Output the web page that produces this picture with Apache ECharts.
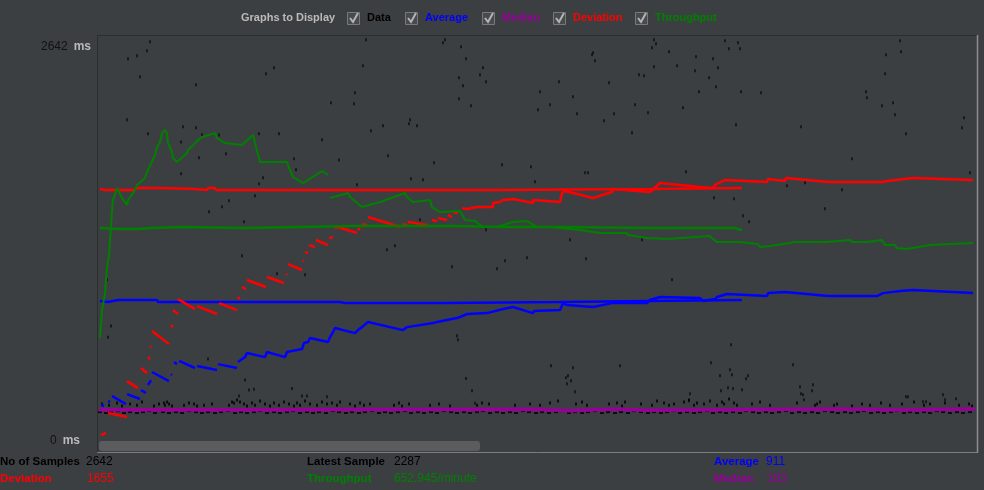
<!DOCTYPE html>
<html>
<head>
<meta charset="utf-8">
<script src="https://cdn.jsdelivr.net/npm/echarts@6/dist/echarts.min.js"></script>
<style>
html,body{margin:0;padding:0;background:#3c3f41;}
#chart{width:984px;height:490px;}
</style>
</head>
<body>
<div id="chart"></div>
<script>
// ---------- DATA ----------
const yTickValues = [0, 2642];
const yUnit = 'ms';
const legendNames = ['Data', 'Average', 'Median', 'Deviation', 'Throughput'];
const legendColors = ['#000000', '#0000ff', '#990099', '#ff0000', '#008000'];
const statNames = ['No of Samples', 'Deviation', 'Latest Sample', 'Throughput', 'Average', 'Median'];
const statValues = ['2642', '1655', '2287', '652.945/minute', '911', '183'];

// [sample slot, ms]; null = gap in the trace
const deviationCurrent = [[4,40],[9,54],null,[11,188],[30,161],null,[30,402],[41,355],null,[44,490],[50,456],null,
  [51,563],[53,550],null,[53,637],[54,630],null,[55,738],[72,650],null,[74,778],[76,764],null,[76,878],[81,852],null,
  [81,952],[98,885],null,[100,905],[120,852],null,[122,925],[140,878],null,[141,966],[143,952],null,[145,1033],[149,1019],null,
  [150,1080],[169,1033],null,[170,1100],[187,1060],null,[189,1120],[190,1114],null,[191,1187],[205,1147],null,[206,1214],[207,1207],null,
  [208,1267],[211,1261],null,[212,1314],[218,1301],null,[219,1348],[231,1314],null,[232,1361],[236,1368],null,
  [238,1428],[241,1435],[260,1395],null,[261,1428],[263,1415],null,[265,1455],[270,1448],null,[271,1502],[303,1435],null,
  [306,1455],[310,1448],null,[311,1469],[331,1448],null,[335,1482],[340,1475],null,[341,1495],[350,1482],null,
  [351,1516],[355,1502],null,[356,1536],[361,1529],null,
  [365,1562],[370,1556],[371,1569],[380,1569],[381,1576],[396,1569],[396,1596],[403,1603],[406,1616],[416,1623],[416,1630],
  [436,1596],[436,1616],[463,1603],[465,1663],[468,1677],[470,1670],[496,1630],[496,1636],[515,1670],[516,1690],[553,1670],
  [553,1683],[563,1730],[603,1703],[616,1697],[618,1717],[628,1750],[670,1737],[671,1757],[688,1744],[689,1764],[731,1737],
  [786,1737],[790,1744],[816,1764],[876,1750]];
const deviationPrevious = [[3,1690],[8,1683],[38,1683],[39,1697],[63,1697],[64,1690],[98,1690],[99,1683],[110,1683],[111,1697],
  [118,1697],[119,1683],[303,1683],[304,1677],[403,1683],[553,1690],[554,1697],[645,1697]];

const averageCurrent = [[4,241],[7,235],null,[11,268],[13,262],null,[15,302],[29,248],null,[30,315],[43,282],null,[44,342],[49,322],null,
  [51,376],[54,409],null,[55,463],[72,402],null,[74,449],[75,443],null,[77,530],[80,516],null,[82,536],[85,530],[98,490],null,
  [100,503],[120,476],null,[121,516],[140,490],null,
  [141,530],[148,563],[150,590],[168,563],[170,597],[188,563],[190,597],[205,617],[207,657],[211,664],[213,691],[231,664],
  [233,697],[236,731],[238,758],[258,724],[261,744],[265,764],[271,798],[306,744],[310,764],[336,791],[340,798],[360,825],
  [363,832],[370,852],[390,858],[391,865],[406,885],[408,892],[416,899],[436,858],[437,872],[463,878],[466,925],[470,912],
  [496,899],[515,925],[516,932],[550,925],[553,946],[563,966],[603,959],[606,939],[618,952],[620,966],[630,986],[670,972],
  [671,992],[688,999],[690,992],[731,972],[780,972],[786,992],[803,1006],[816,1013],[876,992]];
const averagePrevious = [[3,939],[11,932],[21,946],[60,946],[61,932],[243,932],[248,925],[348,925],[349,932],[463,932],[553,939],[645,946]];

const medianValues = [[2,210],[170,210],[171,213],[440,213],[441,203],[473,203],[474,215],[518,215],[519,206],[548,206],
  [549,215],[743,215],[744,208],[803,208],[804,215],[878,215]];

const throughputCurrent = [[3,691],[5,878],[8,992],[10,1160],[11,1214],[12,1234],[13,1348],[14,1442],[15,1549],[16,1616],
  [20,1697],[21,1683],[25,1630],[30,1583],[31,1616],[38,1683],[40,1717],[48,1764],[50,1804],[58,1918],[60,1972],[63,2005],
  [65,2065],[68,2086],[70,2065],[71,1998],[75,1938],[76,1898],[80,1871],[81,1884],[90,1931],[91,1951],[98,1998],[105,2039],
  [118,2065],[120,2032],[128,1998],[130,2005],[145,1985],[146,1998],[156,2052],[158,1998],[163,1871],[165,1864],[190,1871],
  [191,1851],[196,1770],[198,1764],[206,1730],[208,1737],[225,1811],[226,1804],[231,1784],null,
  [233,1630],[251,1663],[253,1636],[265,1569],[266,1576],[283,1603],[308,1663],[310,1636],[316,1603],[318,1596],[333,1616],
  [335,1569],[343,1536],[345,1536],[363,1542],[365,1536],[368,1482],[370,1482],[378,1475],[380,1462],[386,1435],[388,1428],
  [400,1435],[416,1469],[418,1475],[430,1475],[431,1469],[440,1435],[453,1435],[483,1415],[485,1402],[503,1395],[530,1395],
  [531,1381],[550,1361],[551,1348],[570,1355],[613,1375],[615,1361],[620,1334],[643,1334],[645,1328],[661,1321],[663,1301],
  [673,1308],[675,1321],[693,1328],[696,1334],[730,1334],[731,1341],[753,1348],[755,1334],[770,1334],[771,1341],[785,1348],
  [788,1314],[798,1314],[800,1294],[810,1288],[811,1294],[833,1314],[876,1328]];
const throughputPrevious = [[3,1428],[21,1422],[41,1422],[42,1428],[55,1428],[56,1435],[86,1435],[87,1428],[148,1428],[203,1435],
  [253,1442],[358,1442],[403,1435],[463,1435],[553,1428],[638,1428],[639,1415],[645,1415]];

const dataScattered = [[53,2678],[50,2617],[40,2584],[31,2564],[43,2443],[99,2389],[177,2503],[169,2463],[30,2155],[86,2108],
  [99,2101],[51,2061],[105,2054],[122,2052],[162,2061],[182,2061],[269,2691],[266,2517],[258,2336],[234,2269],[257,2262],
  [274,2081],[286,2114],[313,2155],[312,2128],[320,2114],[348,2691],[346,2671],[364,2644],[369,2564],[386,2503],[383,2456],
  [389,2409],[362,2436],[366,2383],[362,2295],[374,2249],[557,2691],[559,2664],[555,2637],[572,2611],[628,2684],[641,2671],
  [632,2631],[643,2631],[496,2604],[495,2591],[498,2550],[599,2577],[616,2564],[557,2510],[580,2517],[621,2503],[598,2483],
  [542,2456],[547,2450],[612,2436],[462,2409],[512,2403],[619,2376],[443,2342],[602,2342],[644,2342],[664,2336],[476,2309],
  [453,2255],[538,2255],[586,2235],[441,2222],[480,2195],[517,2195],[551,2202],[507,2148],[639,2121],[704,2108],[535,2067],
  [803,2684],[804,2611],[789,2591],[788,2463],[769,2342],[770,2302],[785,2249],[796,2269],[798,2188],[867,2168],[865,2101],
  [809,2061],[225,2021],[242,1884],[84,2005],[129,1927],[102,1900],[197,1893],[199,1819],[166,1766],[84,1793],[162,1725],
  [158,1645],[132,1611],[125,1571],[112,1538],[147,1471],[10,1082],[145,1243],[180,1122],[208,1115],[291,1913],[337,1866],
  [405,1853],[434,1839],[314,1759],[326,1752],[260,1719],[438,1739],[488,1799],[491,1799],[589,1806],[617,1632],[637,1625],
  [646,1511],[652,1471],[323,1484],[389,1417],[473,1350],[545,1350],[290,1283],[298,1310],[430,1229],[408,1209],[489,1223],
  [355,1169],[400,1155],[575,1082],[360,706],[361,679],[634,646],[755,1893],[873,1799],[690,1712],[708,1732],[745,1685],
  [728,1558],[14,771],[11,696],[111,550],
  [454,505],[476,492],[523,505],[614,525],[696,512],[471,438],[469,424],[474,404],[470,384],[633,478],[623,438],[635,445],
  [651,438],[649,418],[631,357],[636,351],[624,337],[645,344],[716,378],[703,364],[715,337],[704,317],[706,310],[707,277],
  [478,331],[593,317],[592,270],[809,297],[811,297],[846,310],[848,277],[859,284],[826,264],[829,264],[369,420],[375,337],
  [378,253],[148,409],[152,342],[157,347],[195,353],[205,302],[210,302],[230,297],[142,302]];
const dataBandUpper = [[5,248],[12,241],[20,255],[25,235],[33,248],[40,241],[45,262],[57,235],[62,248],[67,255],[68,241],[70,262],
  [72,248],[75,235],[87,241],[92,255],[97,248],[100,235],[107,241],[115,248],[132,241],[135,262],[137,255],[140,275],[143,262],
  [147,248],[150,235],[155,255],[158,241],[163,268],[168,248],[173,235],[177,255],[182,241],[187,262],[192,248],[197,235],
  [200,255],[203,241],[208,268],[213,248],[220,241],[225,262],[230,248],[235,255],[240,241],[243,262],[253,248],[258,235],
  [263,255],[267,241],[273,248],[297,241],[302,255],[305,235],[312,248],[333,241],[342,248],[353,235],[380,241],[385,255],
  [392,248],[418,241],[433,248],[443,241],[453,255],[461,268],[479,248],[485,262],[490,241],[512,248],[520,255],[525,235],
  [528,262],[544,248],[555,241],[560,268],[567,255],[572,241],[577,248],[587,262],[592,275],[597,241],[600,255],[607,248],
  [613,268],[620,241],[625,262],[627,248],[632,282],[637,255],[640,241],[655,248],[663,262],[673,241],[700,255],[718,241],
  [720,248],[723,262],[737,241],[740,248],[755,235],[765,248],[773,241],[784,255],[793,241],[805,248],[817,262],[827,241],
  [833,248],[848,255],[862,241],[872,248],[875,235]];
const dataBandLower = [[3,194],[9,188],[14,194],[21,201],[27,188],[33,194],[40,188],[46,194],[52,201],[58,188],[66,194],[72,188],
  [79,194],[85,188],[92,201],[99,194],[105,188],[111,194],[118,188],[124,194],[131,201],[138,188],[144,194],[150,188],[157,194],
  [163,201],[170,188],[177,194],[183,188],[190,194],[196,201],[203,188],[210,194],[216,188],[222,194],[229,188],[236,201],
  [242,194],[249,188],[255,194],[262,188],[268,194],[275,201],[282,188],[288,194],[294,188],[301,194],[308,201],[314,188],
  [321,194],[327,188],[334,194],[340,188],[347,201],[354,194],[360,188],[367,194],[373,188],[380,194],[386,201],[393,188],
  [400,194],[406,188],[413,194],[419,188],[426,201],[432,194],[439,188],[445,194],[452,188],[459,194],[465,201],[472,188],
  [478,194],[485,188],[491,194],[498,201],[505,188],[511,194],[518,188],[524,194],[531,188],[537,201],[544,194],[551,188],
  [557,194],[564,188],[570,194],[577,201],[583,188],[590,194],[597,188],[603,194],[610,201],[616,188],[623,194],[629,188],
  [636,194],[643,188],[649,201],[656,194],[662,188],[669,194],[675,188],[682,194],[689,201],[695,188],[702,194],[708,188],
  [715,194],[721,188],[728,201],[735,194],[741,188],[748,194],[754,188],[761,194],[767,201],[774,188],[781,194],[787,188],
  [794,194],[800,201],[807,188],[813,194],[820,188],[827,194],[833,188],[840,201],[846,194],[853,188],[860,194],[866,188],[873,194]];

// ---------- CHART ----------
const FONT = '"Liberation Sans", Arial, sans-serif';
const col = n => legendColors[legendNames.indexOf(n)];
const gaps = arr => arr.map(p => p === null ? ['-', '-'] : p);

function lineSeries(name, data, width) {
  return {
    name: name, type: 'line', data: gaps(data), showSymbol: false, connectNulls: false,
    lineStyle: { color: col(name), width: width }, itemStyle: { color: col(name) },
    silent: true, animation: false, z: 3
  };
}

const chart = echarts.init(document.getElementById('chart'), null, { renderer: 'canvas' });

const graphics = [];
// frame
graphics.push({ type: 'line', shape: { x1: 97, y1: 35.5, x2: 977, y2: 35.5 }, style: { stroke: '#2b2d2f', lineWidth: 1 }, z: 0 });
graphics.push({ type: 'line', shape: { x1: 97.5, y1: 35, x2: 97.5, y2: 453 }, style: { stroke: '#2b2d2f', lineWidth: 1 }, z: 0 });
graphics.push({ type: 'line', shape: { x1: 97, y1: 452.5, x2: 978, y2: 452.5 }, style: { stroke: '#7c7e80', lineWidth: 1 }, z: 0 });
graphics.push({ type: 'line', shape: { x1: 977.5, y1: 35, x2: 977.5, y2: 453 }, style: { stroke: '#8a8c8e', lineWidth: 1.5 }, z: 0 });
// scrollbar
graphics.push({ type: 'rect', shape: { x: 99, y: 441, width: 381, height: 10, r: 3 }, style: { fill: '#5a5c5e' }, z: 10 });
// header
graphics.push({ type: 'text', x: 241, y: 18, style: { text: 'Graphs to Display', fill: '#bbbbbb', font: 'bold 11px ' + FONT, verticalAlign: 'middle' } });
const boxX = [347, 405, 482, 553, 635];
legendNames.forEach((n, i) => {
  const x = boxX[i];
  graphics.push({ type: 'rect', shape: { x: x + 0.5, y: 12.5, width: 12, height: 12 }, style: { fill: '#474b4d', stroke: '#77797b', lineWidth: 1 } });
  graphics.push({ type: 'polyline', shape: { points: [[x + 3, 18], [x + 6, 22], [x + 11, 13]] }, style: { stroke: '#b4b4b4', lineWidth: 2, fill: null } });
  graphics.push({ type: 'text', x: x + 20, y: 18, style: { text: n, fill: legendColors[i], font: 'bold 11px ' + FONT, verticalAlign: 'middle' } });
});
// stats
const statPos = [[0, 86, 462], [0, 87, 479], [307, 394, 462], [307, 394, 479], [714, 766, 462], [714, 767, 479]];
const statColors = ['#000000', col('Deviation'), '#000000', col('Throughput'), col('Average'), col('Median')];
statNames.forEach((n, i) => {
  const p = statPos[i];
  graphics.push({ type: 'text', x: p[0], y: p[2], style: { text: n, fill: statColors[i], font: 'bold 11.5px ' + FONT, verticalAlign: 'middle' } });
  graphics.push({ type: 'text', x: p[1], y: p[2], style: { text: statValues[i], fill: statColors[i], font: '12px ' + FONT, verticalAlign: 'middle' } });
});

const option = {
  backgroundColor: '#3c3f41',
  animation: false,
  grid: { left: 97, top: 36, width: 880, height: 417, show: false },
  xAxis: { type: 'value', min: 0, max: 880, show: false },
  yAxis: {
    type: 'value', min: -80, max: 2716,
    splitLine: { show: false }, axisLine: { show: false }, axisTick: { show: false },
    axisLabel: {
      show: true, customValues: yTickValues, margin: 6,
      formatter: v => v === 0 ? '{n|' + v + '}{u|' + yUnit + '}{p|}' : '{n|' + v + '}{u|' + yUnit + '}',
      rich: {
        n: { color: '#111111', fontSize: 12, fontFamily: FONT },
        u: { color: '#bbbbbb', fontSize: 12, fontWeight: 'bold', fontFamily: FONT, padding: [0, 0, 0, 6] },
        p: { width: 11 }
      }
    }
  },
  series: [
    { name: 'Data', type: 'scatter', data: dataScattered, symbol: 'rect', symbolSize: [1.5, 3], itemStyle: { color: '#000' }, silent: true, z: 1 },
    { name: 'Data', type: 'scatter', data: dataBandUpper, symbol: 'rect', symbolSize: [2, 3], itemStyle: { color: '#000' }, silent: true, z: 1 },
    { name: 'Data', type: 'scatter', data: dataBandLower, symbol: 'rect', symbolSize: [4, 2], itemStyle: { color: '#000' }, silent: true, z: 1 },
    lineSeries('Average', averagePrevious, 2.5),
    lineSeries('Average', averageCurrent, 2.5),
    lineSeries('Median', medianValues, 3.5),
    lineSeries('Deviation', deviationPrevious, 2.5),
    lineSeries('Deviation', deviationCurrent, 2.5),
    lineSeries('Throughput', throughputPrevious, 2.5),
    lineSeries('Throughput', throughputCurrent, 2)
  ],
  graphic: graphics
};
chart.setOption(option);
</script>
</body>
</html>
